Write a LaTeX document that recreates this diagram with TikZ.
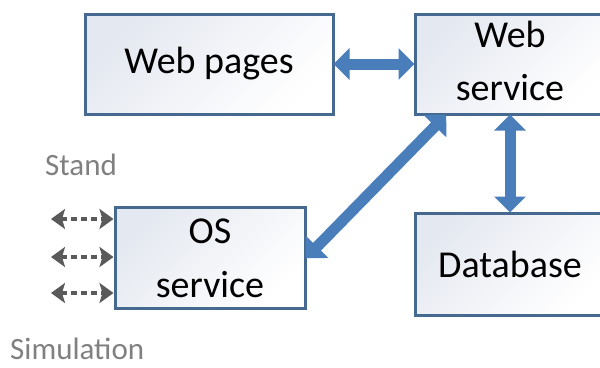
\documentclass[tikz,border=0pt]{standalone}
\usepackage{fontspec}
\setmainfont{Carlito}
\usetikzlibrary{arrows.meta,calc}
\definecolor{boxline}{HTML}{46698F}
\definecolor{boxfill}{HTML}{E4E8F0}
\definecolor{arrblue}{HTML}{4A7EBB}
\definecolor{dgray}{HTML}{5A5A5A}
\definecolor{lgray}{HTML}{808080}
\tikzset{
  box/.style={draw=boxline, line width=3pt, top color=boxfill, bottom color=white, shading angle=45,
    minimum width=#1, minimum height=100pt, inner sep=0pt, font=\fontsize{38}{53}\selectfont},
  txt/.style={inner sep=0pt, anchor=base, font=\fontsize{38}{53}\selectfont},
  side/.style={inner sep=0pt, anchor=base west, text=lgray, font=\fontsize{31}{36}\selectfont},
  bigarrow/.style={draw=arrblue, line width=11pt,
    {Triangle[width=31pt,length=16pt]}-{Triangle[width=31pt,length=16pt]}, shorten <=-1pt, shorten >=-1pt},
  smallarrow/.style={draw=dgray, line width=4pt, dash pattern=on 6pt off 4pt,
    {Stealth[width=20pt,length=14pt,inset=3pt]}-{Stealth[width=20pt,length=14pt,inset=3pt]}}
}
\begin{document}
\begin{tikzpicture}[x=1pt,y=-1pt]
\useasboundingbox (0,0) rectangle (600,367);
\node[box=248pt] (wp) at (209,64) {Web pages};
\node[box=190pt] (ws) at (510,64) {};
\node[txt] (wst1) at (510,47) {Web};
\node[txt] (wst2) at (510,100) {service};
\node[box=190pt, minimum height=101pt] (os) at (210,257.5) {};
\node[txt] (ost1) at (210,243) {OS};
\node[txt] (ost2) at (210,297) {service};
\node[box=190pt, minimum height=102pt] (db) at (510,264) {Database};
\draw[bigarrow] (wp.east) -- (ws.west);
\draw[bigarrow] (ws.south) -- (db.north);
\coordinate (wsd) at ($(ws.south west)+(32,0)$);
\draw[bigarrow] (wsd) -- (os.east);
\coordinate (s1) at (51,219);
\coordinate (s2) at (51,257);
\coordinate (s3) at (51,293);
\draw[smallarrow] (s1) -- (s1 -| os.west);
\draw[smallarrow] (s2) -- (s2 -| os.west);
\draw[smallarrow] (s3) -- (s3 -| os.west);
\node[side] (stand) at (45,175) {Stand};
\node[side] (sim) at (10,359) {Simulation};
\end{tikzpicture}
\end{document}
